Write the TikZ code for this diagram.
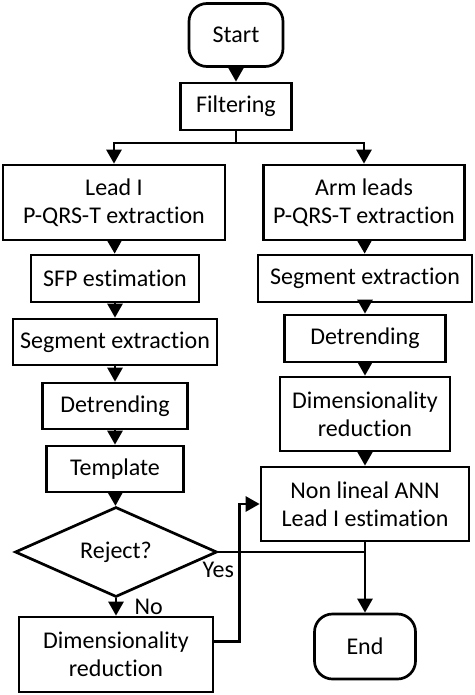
\documentclass[tikz,border=0pt]{standalone}
\usepackage{fontspec}
\setmainfont{Carlito}[RawFeature=-liga]
\usetikzlibrary{shapes.geometric,arrows.meta}

\begin{document}
\begin{tikzpicture}[x=1pt,y=-1pt,
                    every node/.style={font=\fontsize{24}{28}\selectfont},
                    box/.style={rectangle,draw=black,line width=2.7pt,align=center,inner sep=0pt},
                    term/.style={box,rounded corners=18pt},
                    decision/.style={diamond,draw=black,line width=2.7pt,aspect=2.2,inner sep=0pt},
                    line/.style={draw=black,line width=2.7pt},
                    arr/.style={line,-{Triangle[length=14pt,width=15pt]}}
                ]
    \useasboundingbox (0,0) rectangle (474,695);
    \node[term,minimum width=94,minimum height=63] (start) at (236,35) {Start};
    \node[box,minimum width=111,minimum height=47] (filt) at (236,106.5) {Filtering};
    \coordinate (split) at (236,143);
    % left branch
    \node[box,minimum width=222,minimum height=75] (leadI) at (114,202.5) {Lead I\\P-QRS-T extraction};
    \node[box,minimum width=168,minimum height=47] (sfp) at (115,278.5) {SFP estimation};
    \node[box,minimum width=204,minimum height=46] (segL) at (115,342) {Segment extraction};
    \node[box,minimum width=145,minimum height=46] (detL) at (115,406) {Detrending};
    \node[box,minimum width=137,minimum height=46] (templ) at (115,469) {Template};
    \node[decision,minimum width=202,minimum height=90] (reject) at (116,552) {Reject?};
    \node[box,minimum width=194,minimum height=75] (dimL) at (116,654.5) {Dimensionality\\reduction};
    % right branch
    \node[box,minimum width=201,minimum height=75] (arm) at (364,202.5) {Arm leads\\P-QRS-T extraction};
    \node[box,minimum width=214,minimum height=47] (segR) at (365,278.5) {Segment extraction};
    \node[box,minimum width=161,minimum height=47] (detR) at (365,338.5) {Detrending};
    \node[box,minimum width=170,minimum height=74] (dimR) at (365,414) {Dimensionality\\reduction};
    \node[box,minimum width=208,minimum height=74] (ann) at (365,504) {Non lineal ANN\\Lead I estimation};
    \node[term,minimum width=101,minimum height=65] (endn) at (365,646.5) {End};

    \draw[arr] (start) -- (filt);
    \draw[line] (filt) -- (split);
    \draw[arr] (split) -| (leadI);
    \draw[arr] (split) -| (arm);
    \foreach \a/\b in {leadI/sfp,sfp/segL,segL/detL,detL/templ,templ/reject,arm/segR,segR/detR,detR/dimR,dimR/ann,ann/endn}
        \draw[arr] (\a) -- (\b);
    \draw[arr] (reject) -- node[right,xshift=14pt] (no) {No} (dimL);
    \draw[line] (reject.east) node[below=5pt] (yes) {Yes} -- (reject.east -| endn);
    \draw[arr] ([yshift=13pt]dimL.east) -- ++(25,0) |- (ann.west);
\end{tikzpicture}
\end{document}
